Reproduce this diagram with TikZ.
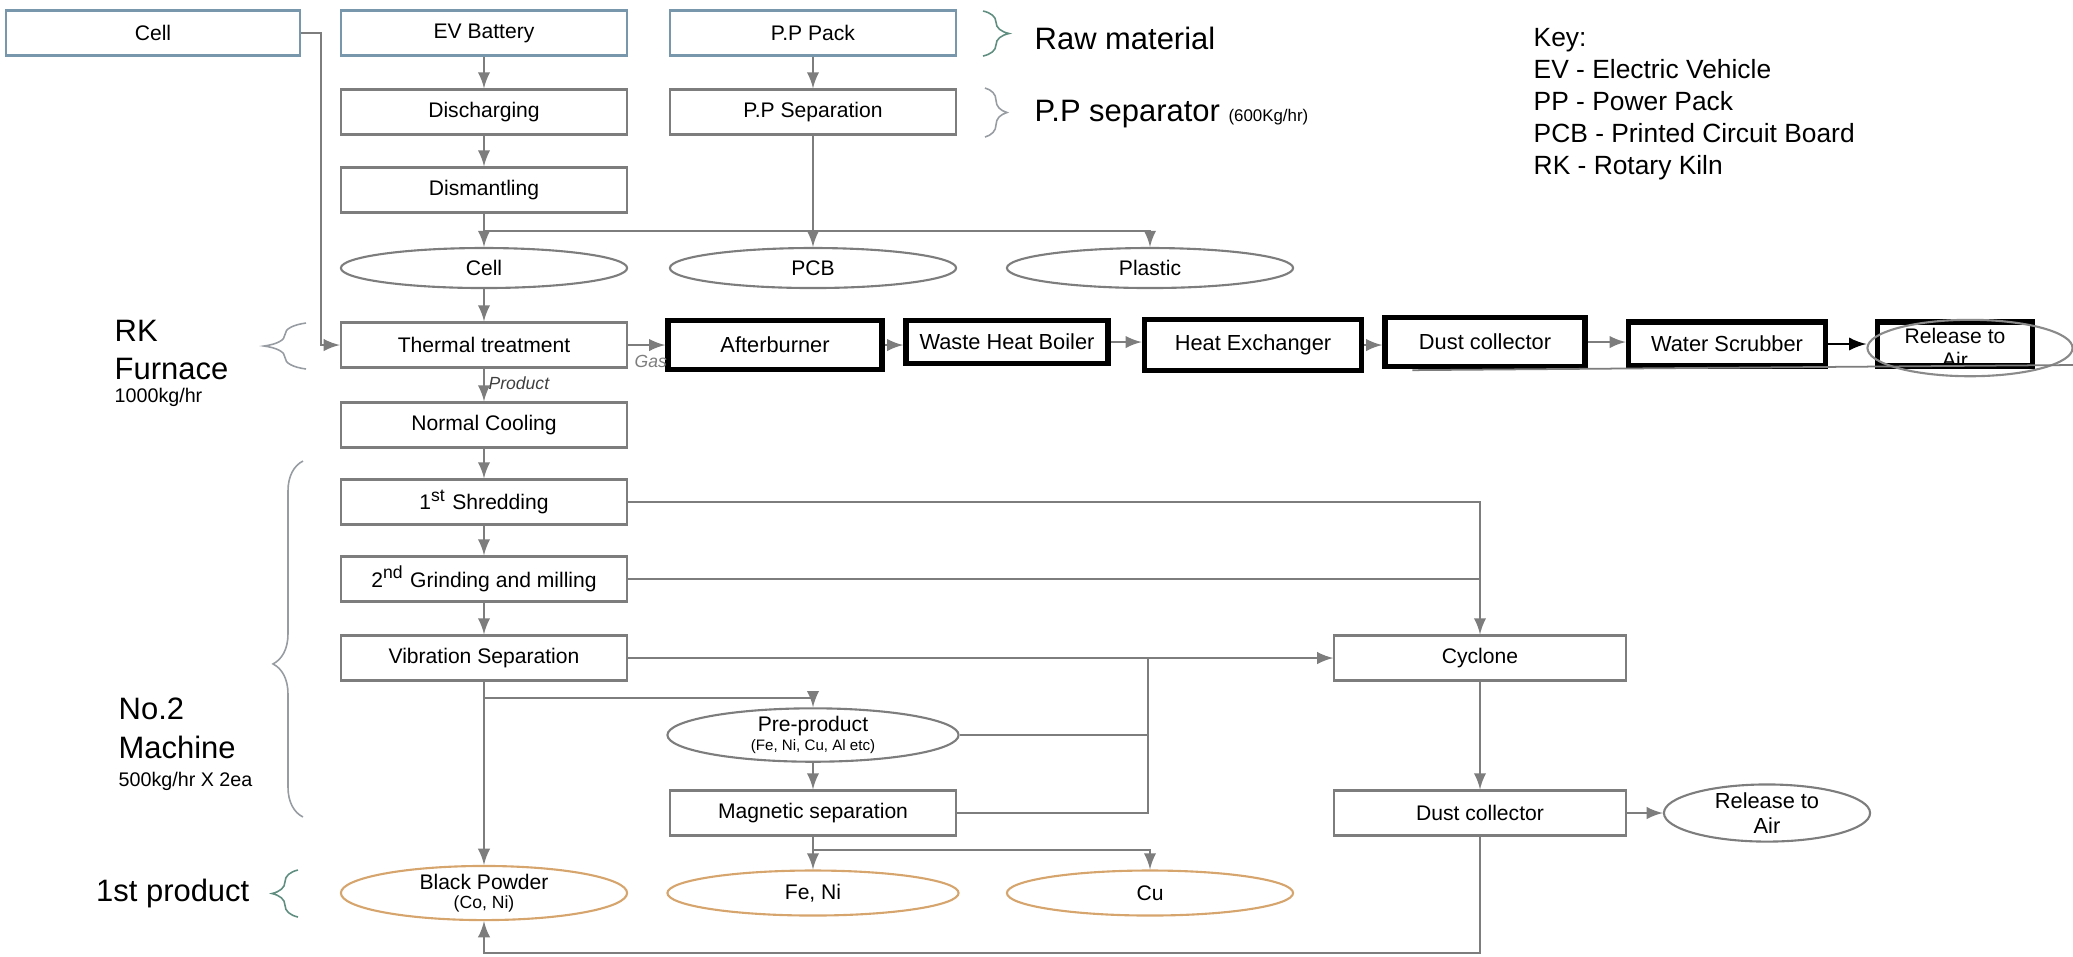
\documentclass[tikz,border=0pt]{standalone}
\usepackage{fontspec}
\setmainfont{Liberation Sans}
\usetikzlibrary{shapes.geometric,decorations.pathreplacing}

\definecolor{linegray}{RGB}{125,125,125}
\definecolor{boxblue}{RGB}{120,150,172}
\definecolor{prodorange}{RGB}{214,165,110}
\definecolor{braceteal}{RGB}{95,142,128}
\definecolor{bracegray}{RGB}{150,156,162}

\tikzset{>=latex}
\tikzset{
  box/.style={draw=linegray, line width=0.6pt, minimum width=2.86cm, minimum height=0.45cm,
    inner sep=0pt, font=\fontsize{6}{7}\selectfont},
  topbox/.style={box, draw=boxblue},
  hotbox/.style={draw=black, line width=1.5pt, inner sep=0pt, font=\fontsize{6.2}{7}\selectfont},
  oval/.style={ellipse, draw=linegray, line width=0.6pt, minimum width=2.86cm, minimum height=0.4cm,
    inner sep=0pt, align=center, font=\fontsize{6}{7}\selectfont},
  prodoval/.style={oval, draw=prodorange, minimum height=0.45cm},
  flow/.style={draw=linegray, line width=0.6pt},
  bigtext/.style={inner sep=0pt, align=left, font=\fontsize{8.8}{11}\selectfont},
  smalltag/.style={inner sep=1pt, text=linegray, font=\itshape\fontsize{5}{6}\selectfont},
  bracket/.style={decorate, line width=0.45pt, decoration={brace, amplitude=#1}}
}

\begin{document}
\begin{tikzpicture}[x=0.01cm, y=-0.01cm]
\useasboundingbox (0,0) rectangle (2073,956);

% Raw material
\node[topbox, minimum width=2.93cm] (cellin) at (153,33) {Cell};
\node[topbox] (ev) at (484,33) {EV Battery};
\node[topbox] (pack) at (813,33) {P.P Pack};
\node[box] (dis) at (484,112) {Discharging};
\node[box] (pps) at (813,112) {P.P Separation};
\node[box] (dism) at (484,190) {Dismantling};
\node[oval] (cell) at (484,268) {Cell};
\node[oval] (pcb) at (813,268) {PCB};
\node[oval] (plastic) at (1150,268) {Plastic};

\draw[flow,->] (ev) -- (dis);
\draw[flow,->] (dis) -- (dism);
\draw[flow,->] (pack) -- (pps);
\draw[flow,->] (dism) -- (cell);
\draw[flow,->] (pps) -- (pcb);
\coordinate (dismsplit) at (484,231);
\draw[flow,->] (dismsplit) -| (plastic);

\draw[braceteal, bracket=0.26cm] (983,11) -- (983,56);
\draw[bracegray, bracket=0.22cm] (985,88) -- (985,137);
\node[bigtext, anchor=west] (rawlabel) at (1034,38) {Raw material};
\node[bigtext, anchor=west] (seplabel) at (1034,114) {P.P separator {\fontsize{4.8}{6}\selectfont (600Kg/hr)}};

% Key
\node[anchor=north west, align=left, inner sep=0pt, font=\fontsize{7.5}{9.1}\selectfont] (keylabel) at (1533,28)
  {Key:\\EV - Electric Vehicle\\PP - Power Pack\\PCB - Printed Circuit Board\\RK - Rotary Kiln};

% RK furnace and gas line
\node[box] (thermal) at (484,345) {Thermal treatment};
\node[hotbox, minimum width=2.14cm, minimum height=0.49cm] (after) at (775,345) {Afterburner};
\node[hotbox, minimum width=2.02cm, minimum height=0.43cm] (boiler) at (1007,342) {Waste Heat Boiler};
\node[hotbox, minimum width=2.17cm, minimum height=0.51cm] (hex) at (1253,345) {Heat Exchanger};
\node[hotbox, minimum width=2.0cm, minimum height=0.49cm] (dust1) at (1485,342) {Dust collector};
\node[hotbox, minimum width=1.97cm, minimum height=0.44cm] (scrub) at (1727,344) {Water Scrubber};
\node[hotbox, minimum width=1.55cm, minimum height=0.44cm] (rel1box) at (1955,344) {};
\node[oval, draw=linegray!90, minimum width=2.05cm, minimum height=0.38cm] (rel1) at (1970,348)
  {\hspace*{-0.3cm}Release to\\\hspace*{-0.3cm}Air};

\draw[flow,->] (cell) -- (thermal);
\draw[flow,->] (cellin.east) -- ++(20,0) |- (thermal.west);
\draw[flow,->] (thermal) -- (after);
\node[smalltag, anchor=west, inner sep=0pt] (gaslabel) at (634,361) {Gas};
\draw[flow,->] (after) -- (after -| boiler.west);
\draw[flow,->] (boiler) -- (boiler -| hex.west);
\draw[flow,->] (hex) -- (hex -| dust1.west);
\draw[flow,->] (dust1) -- (dust1 -| scrub.west);
\draw[black, line width=0.7pt, ->] (scrub) -- (scrub -| rel1.west);
\draw[linegray, line width=0.5pt] (dust1.south west) ++(30,1) -- (2073,365);

\draw[bracegray, bracket=0.42cm] (306,369) -- (306,323);
\node[bigtext, anchor=north west] (rklabel) at (114,319)
  {RK\\Furnace\\[-4.6pt]{\fontsize{5.6}{6}\selectfont 1000kg/hr}};

% No.2 machine
\node[box] (cool) at (484,425) {Normal Cooling};
\node[box] (shred) at (484,502) {1\textsuperscript{st} Shredding};
\node[box] (grind) at (484,579) {2\textsuperscript{nd} Grinding and milling};
\node[box] (vib) at (484,658) {Vibration Separation};
\node[box, minimum width=2.91cm] (cyc) at (1480,658) {Cyclone};
\node[oval, minimum width=2.91cm] (pre) at (813,735)
  {Pre-product\\[-1.5pt]{\fontsize{4.3}{5}\selectfont (Fe, Ni, Cu, Al etc)}};
\node[box] (mag) at (813,813) {Magnetic separation};
\node[box, minimum width=2.91cm] (dust2) at (1480,813) {Dust collector};
\node[oval, minimum width=2.06cm, minimum height=0.44cm, font=\fontsize{6.2}{7}\selectfont] (rel2) at (1767,813)
  {Release to\\Air};

\draw[flow,->] (thermal) -- node[smalltag, text=black!75, right, pos=0.45] (productlabel) {Product} (cool);
\draw[flow,->] (cool) -- (shred);
\draw[flow,->] (shred) -- (grind);
\draw[flow,->] (grind) -- (vib);
\draw[flow,->] (shred.east) -| (cyc.north);
\draw[flow] (grind.east) -- (grind.east -| cyc.north);
\draw[flow,->] (vib) -- (cyc);
\coordinate (vibsplit) at (484,698);
\draw[flow,->] (vibsplit) -| (pre);
\draw[flow,->] (pre) -- (mag);
\coordinate (magjoin) at (1148,658);
\draw[flow] (pre.east) -| (magjoin);
\draw[flow] (mag.east) -| (magjoin);
\draw[flow,->] (cyc) -- (dust2);
\draw[flow,->] (dust2) -- (rel2);

\draw[bracegray, bracket=0.3cm, decoration={aspect=0.43}] (303,817) -- (303,461);
\node[bigtext, anchor=north west] (machlabel) at (118,697)
  {No.2\\Machine\\[-3pt]{\fontsize{5.6}{6}\selectfont 500kg/hr X 2ea}};

% 1st product
\node[prodoval] (black) at (484,893)
  {Black Powder\\[-1.5pt]{\fontsize{5}{6}\selectfont (Co, Ni)}};
\node[prodoval, minimum width=2.91cm] (feni) at (813,893) {Fe, Ni};
\node[prodoval] (cu) at (1150,893) {Cu};

\draw[flow,->] (vib) -- (black);
\draw[flow,->] (mag) -- (feni);
\coordinate (magsplit) at (813,850);
\draw[flow,->] (magsplit) -| (cu);
\draw[flow,->] (dust2.south) -- ++(0,116) -| (black.south);

\draw[braceteal, bracket=0.26cm] (298,917) -- (298,870);
\node[bigtext, anchor=east] (prodlabel) at (250,893) {1st product};

\end{tikzpicture}
\end{document}
